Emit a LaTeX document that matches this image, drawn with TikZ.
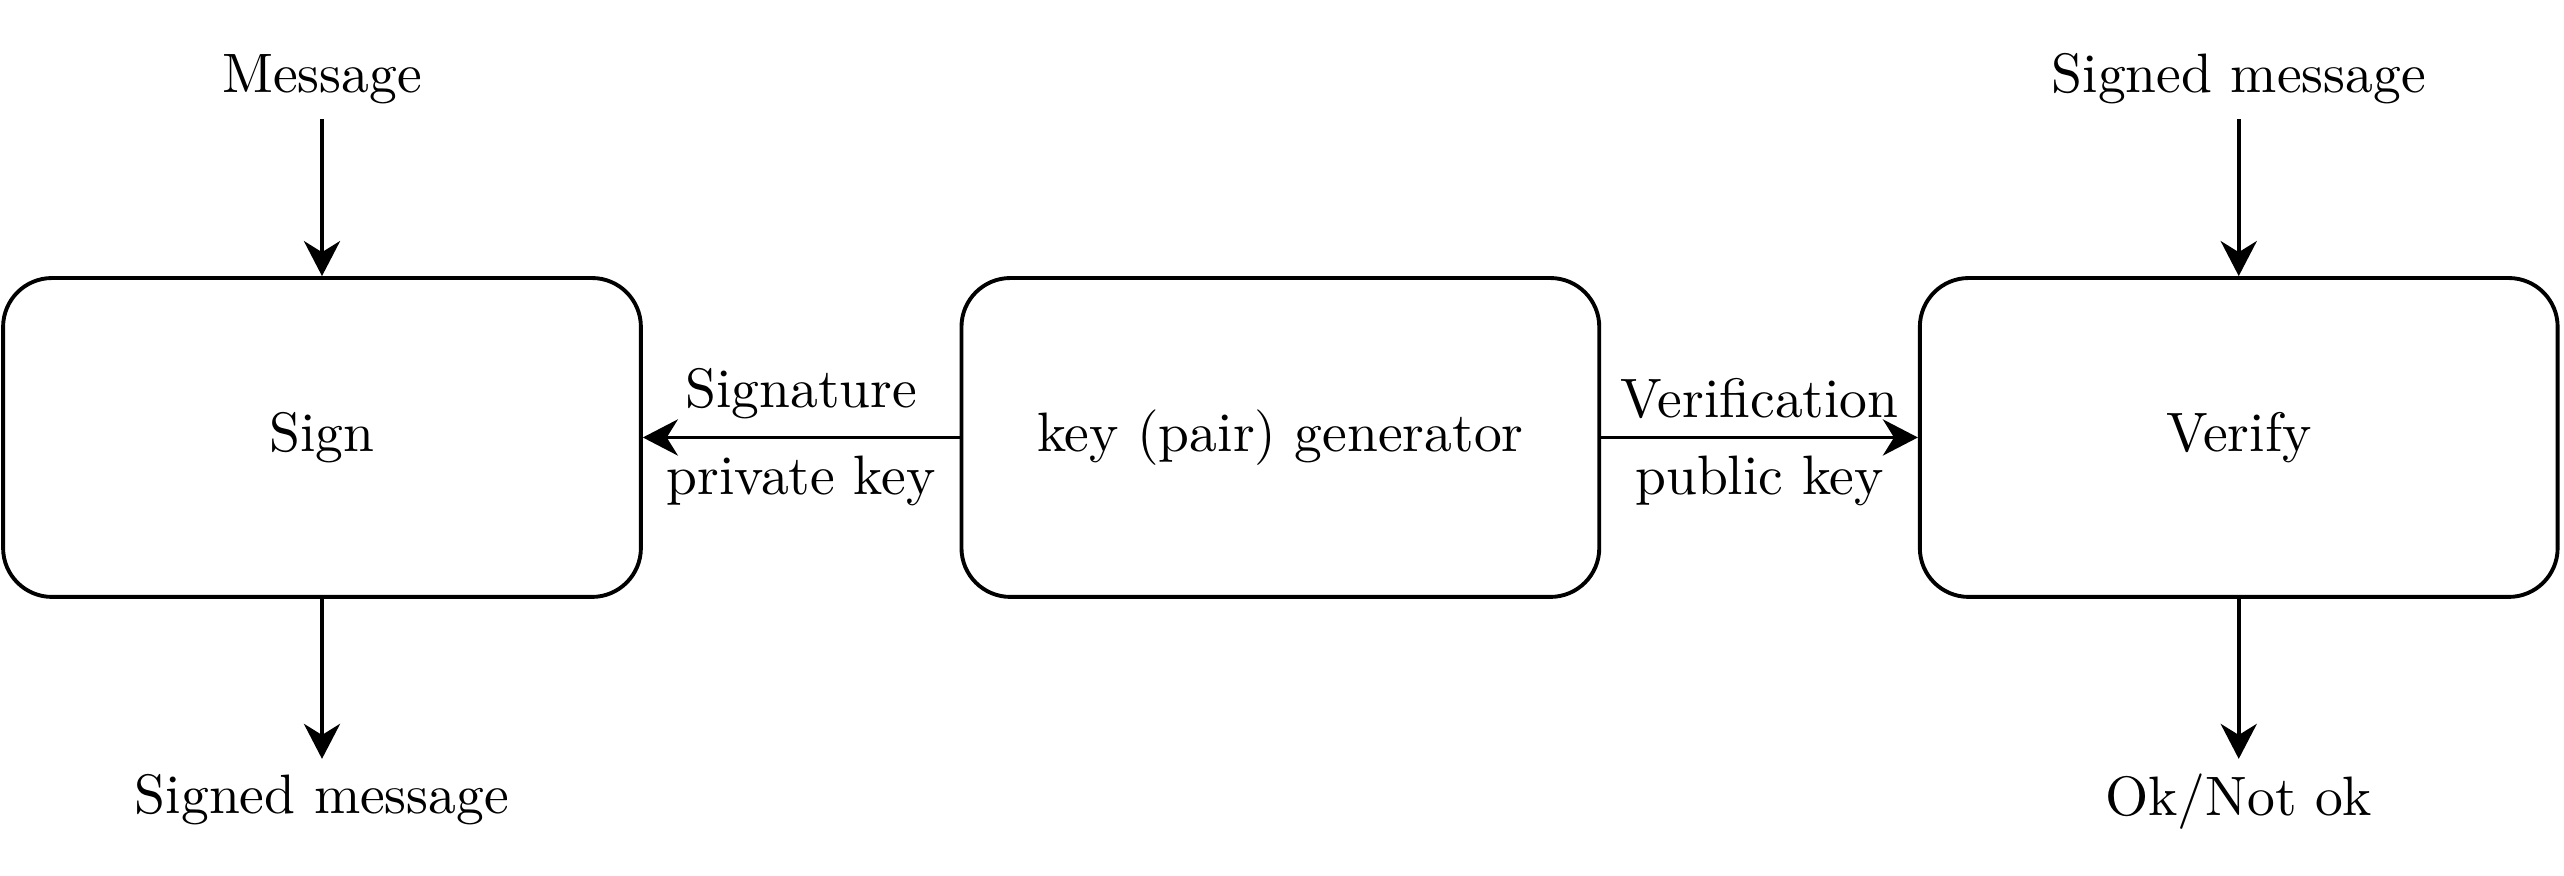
\documentclass[tikz,border=0pt]{standalone}
\usepackage{amsmath, amssymb}
\usepackage{xcolor}
\usepackage{tikz}
\usetikzlibrary{positioning, arrows.meta}

\tikzset{
  block/.style={draw, line width=0.7pt, rounded corners=8.8pt,
    minimum width=114.8pt, minimum height=57.4pt},
  io/.style={inner sep=2.5pt},
  conn/.style={line width=0.7pt, -{Stealth[length=6.3pt, width=6.5pt, inset=2pt]}},
  lbl/.style={inner sep=3pt}
}

\begin{document}
\begin{tikzpicture}[x=0.18pt, y=-0.18pt]
\useasboundingbox (0,0) rectangle (2564,876);

\node[block] (sign) at (322,437.5) {Sign};
\node[block, right=57pt of sign] (keygen) {key (pair) generator};
\node[block, right=57pt of keygen] (verify) {Verify};

\node[io, above=28.2pt of sign] (msg) {Message};
\node[io, below=28.8pt of sign] (signedout) {Signed message};
\node[io, above=28.2pt of verify] (signedin) {Signed message};
\node[io, below=28.8pt of verify] (result) {Ok/Not ok};

\draw[conn] (msg) -- (sign);
\draw[conn] (sign) -- (signedout);
\draw[conn] (signedin) -- (verify);
\draw[conn] (verify) -- (result);

\draw[conn] (keygen) -- node[lbl, above] {Signature} node[lbl, below] {private key} (sign);
\draw[conn] (keygen) -- node[lbl, above] {Verification} node[lbl, below] {public key} (verify);
\end{tikzpicture}
\end{document}
